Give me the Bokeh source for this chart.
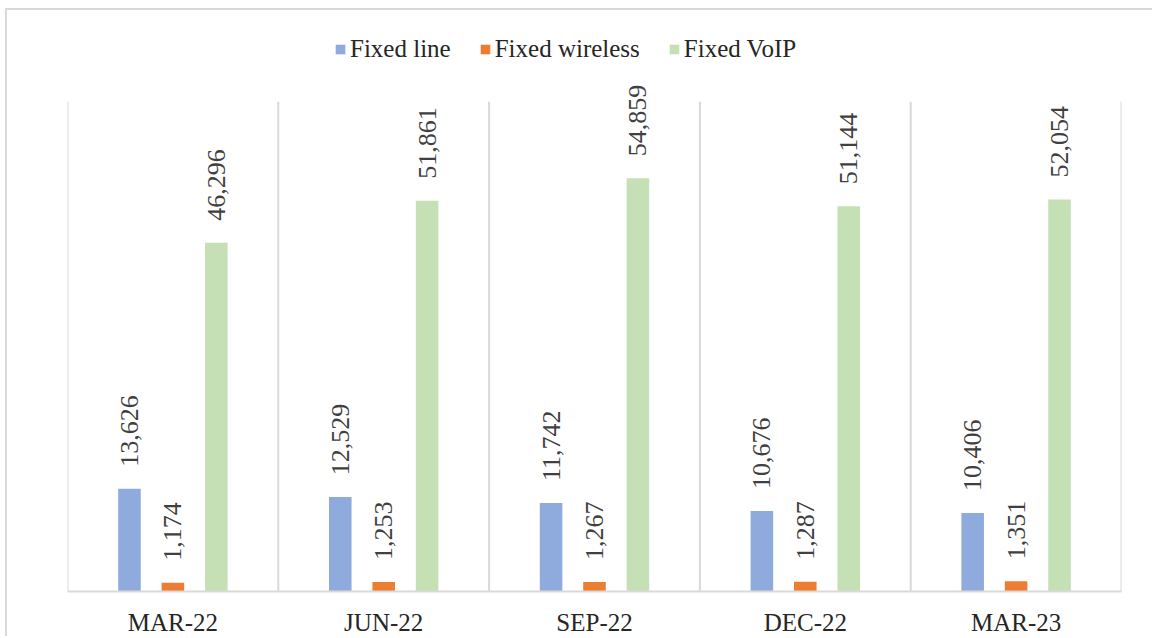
import math
from bokeh.plotting import figure
from bokeh.models import ColumnDataSource, FactorRange, Range1d, LabelSet, Legend, LegendItem
from bokeh.transform import dodge
from bokeh.embed import file_html
from bokeh.resources import INLINE

quarters = ["MAR-22", "JUN-22", "SEP-22", "DEC-22", "MAR-23"]
fixed_line = [13626, 12529, 11742, 10676, 10406]
fixed_wireless = [1174, 1253, 1267, 1287, 1351]
fixed_voip = [46296, 51861, 54859, 51144, 52054]
series_names = ["Fixed line", "Fixed wireless", "Fixed VoIP"]
series_colors = ["#8faadc", "#ed7d31", "#c5e0b4"]
axis_max = 65000

def fmt(v):
    return f"{v:,}"

src = ColumnDataSource(dict(
    q=quarters,
    line=fixed_line, wl=fixed_wireless, voip=fixed_voip,
    line_t=[fmt(v) for v in fixed_line],
    wl_t=[fmt(v) for v in fixed_wireless],
    voip_t=[fmt(v) for v in fixed_voip],
))

p = figure(width=1147, height=628, output_backend="svg", toolbar_location=None,
           x_range=FactorRange(*quarters, range_padding=0), y_range=Range1d(0, 75800),
           min_border_left=60, min_border_right=33, min_border_top=10, min_border_bottom=46,
           tools="")
p.styles = {"border-left": "2px solid #d9d9d9", "border-top": "2px solid #d9d9d9",
            "margin-left": "5px", "margin-top": "8px"}
p.outline_line_color = None
p.xgrid.visible = False
p.ygrid.visible = False
p.yaxis.visible = False

# category separators from 0 to the axis maximum
sep = ColumnDataSource(dict(q=quarters, y0=[0] * len(quarters), y1=[axis_max] * len(quarters)))
p.segment(x0=dodge("q", -0.5, range=p.x_range), x1=dodge("q", -0.5, range=p.x_range),
          y0="y0", y1="y1", source=sep, line_color="#d9d9d9", line_width=2)
sep_end = ColumnDataSource(dict(q=quarters[-1:], y0=[0], y1=[axis_max]))
p.segment(x0=dodge("q", 0.5, range=p.x_range), x1=dodge("q", 0.5, range=p.x_range),
          y0="y0", y1="y1", source=sep_end, line_color="#d9d9d9", line_width=2)

offsets = [-0.206, 0.0, 0.206]
fields = ["line", "wl", "voip"]
items = []
for off, f, col, name in zip(offsets, fields, series_colors, series_names):
    r = p.vbar(x=dodge("q", off, range=p.x_range), top=f, width=0.107, source=src,
               fill_color=col, line_color=None)
    items.append(LegendItem(label=name, renderers=[r]))
    labels = LabelSet(x=dodge("q", off, range=p.x_range), y=f, text=f + "_t", source=src,
                      angle=math.pi / 2, text_align="left", text_baseline="middle",
                      y_offset=22, text_font="Liberation Sans", text_font_size="26px",
                      text_color="#404040")
    p.add_layout(labels)

legend = Legend(items=items, orientation="horizontal", location=(267, 528),
                padding=0, margin=0, spacing=28, glyph_width=12, glyph_height=12,
                label_standoff=4, label_text_font="Liberation Serif",
                label_text_font_size="25px", label_text_color="#262626",
                border_line_color=None, background_fill_alpha=0)
p.add_layout(legend)

ax = p.xaxis[0]
ax.axis_line_color = "#d9d9d9"
ax.axis_line_width = 2
ax.major_tick_line_color = None
ax.minor_tick_line_color = None
ax.major_label_standoff = 11
ax.major_label_text_font = "Liberation Serif"
ax.major_label_text_font_size = "25px"
ax.major_label_text_color = "#262626"

open("out.html", "w").write(file_html(p, INLINE))
